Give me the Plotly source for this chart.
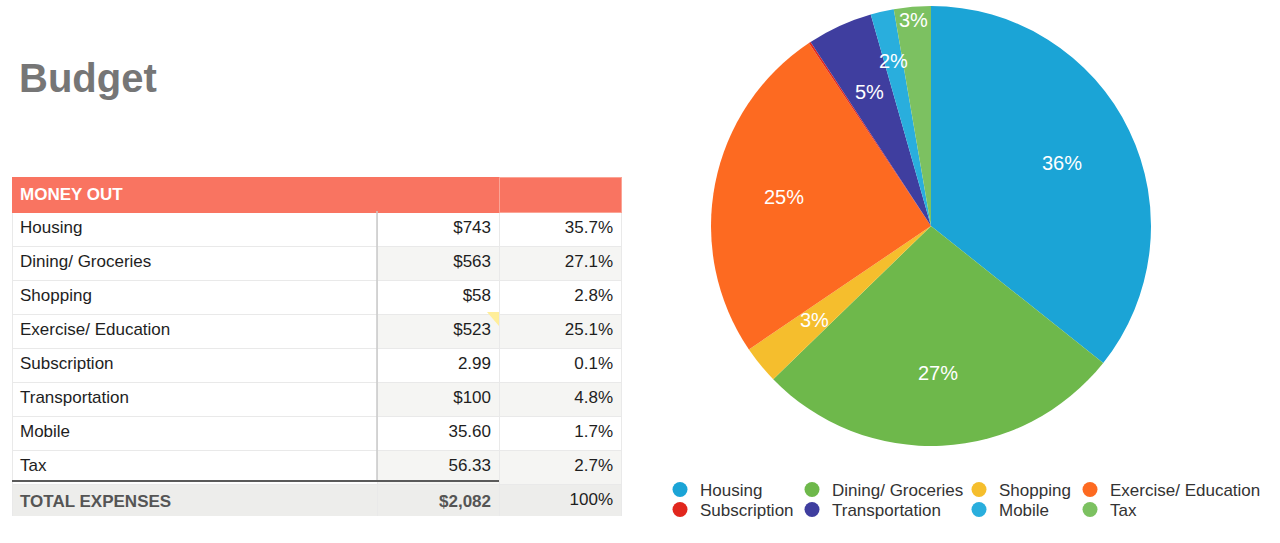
import math
import plotly.graph_objects as go

# ---- data ----
categories = ["Housing", "Dining/ Groceries", "Shopping", "Exercise/ Education",
              "Subscription", "Transportation", "Mobile", "Tax"]
amounts = [743, 563, 58, 523, 2.99, 100, 35.60, 56.33]
amount_labels = ["$743", "$563", "$58", "$523", "2.99", "$100", "35.60", "56.33"]
percent_labels = ["35.7%", "27.1%", "2.8%", "25.1%", "0.1%", "4.8%", "1.7%", "2.7%"]
total_label = ["TOTAL EXPENSES", "$2,082", "100%"]
colors = ["#1BA4D6", "#6EB84B", "#F5BE2D", "#FD6A21",
          "#E1271D", "#3F3E9F", "#29AEDD", "#7CC161"]

# style: radial position of each slice label (fraction of radius)
label_radius = [0.66, 0.67, 0.68, 0.68, 0.67, 0.67, 0.77, 0.94]

FONT = "Liberation Sans"
W, H = 1280, 543

fig = go.Figure()

# ---- table ----
n = len(categories)
col1 = categories + ["<b>" + total_label[0] + "</b>"]
col2 = amount_labels + ["<b>" + total_label[1] + "</b>"]
col3 = percent_labels + [total_label[2]]
alt = ["#FFFFFF" if i % 2 == 0 else "#F5F5F3" for i in range(n)]
total_fill = "#EDEDEB"
fill1 = ["#FFFFFF"] * n + [total_fill]
fill2 = alt + [total_fill]
fill3 = alt + [total_fill]
font_c1 = ["#1E1E1E"] * n + ["#555555"]
font_c2 = ["#1E1E1E"] * n + ["#555555"]
font_c3 = ["#1E1E1E"] * n + ["#1E1E1E"]

fig.add_trace(go.Table(
    domain=dict(x=[12 / W, 621 / W], y=[1 - 516 / H, 1 - 177 / H]),
    columnwidth=[365, 122, 122],
    header=dict(
        values=["<b>MONEY OUT</b>", "", ""],
        fill_color="#F97461",
        line=dict(color=["#F97461", "#F97461", "#FBA495"], width=1),
        font=dict(family=FONT, size=17, color="white"),
        align="left",
        height=33,
    ),
    cells=dict(
        values=[col1, col2, col3],
        fill_color=[fill1, fill2, fill3],
        line=dict(color="#E9E9E9", width=1),
        font=dict(family=FONT, size=17, color=[font_c1, font_c2, font_c3]),
        align=["left", "right", "right"],
        height=34,
    ),
))

# ---- pie ----
pie_dom_x = [711 / W, 1151 / W]
pie_dom_y = [1 - 446 / H, 1 - 6 / H]
fig.add_trace(go.Pie(
    labels=categories,
    values=amounts,
    textinfo="none",
    marker=dict(colors=colors, line=dict(width=0)),
    sort=False,
    direction="clockwise",
    rotation=0,
    showlegend=False,
    domain=dict(x=pie_dom_x, y=pie_dom_y),
    hoverinfo="label+value+percent",
))

# slice labels: placed at each slice's mid-angle, on an axis system over the pie
total = sum(amounts)
annotations = []
cum = 0.0
for v, fr in zip(amounts, label_radius):
    share = v / total
    mid = (cum + v / 2) / total * 2 * math.pi
    cum += v
    if share < 0.01:
        continue
    annotations.append(dict(
        text=f"{round(share * 100)}%", x=fr * math.sin(mid), y=fr * math.cos(mid),
        xref="x", yref="y", showarrow=False, xanchor="center", yanchor="middle",
        font=dict(family=FONT, size=20, color="white"),
    ))

annotations.append(dict(
    text="<b>Budget</b>", x=17 / W, y=1 - 78 / H, xref="paper", yref="paper",
    xanchor="left", yanchor="middle", showarrow=False,
    font=dict(family=FONT, size=40, color="#767676"),
))

# ---- legend (circle markers, 4 columns x 2 rows) ----
legend_x_px = [660, 792, 959, 1070]
legend_y_px = [472, 492]
layout_legends = {}
for i, (cat, col) in enumerate(zip(categories, colors)):
    key = "legend" if i == 0 else f"legend{i + 1}"
    fig.add_trace(go.Scatter(
        x=[None], y=[None], mode="markers", name=cat,
        marker=dict(color=col, size=15, symbol="circle"),
        legend=key, showlegend=True, hoverinfo="skip",
    ))
    layout_legends[key] = dict(
        orientation="v", xanchor="left", yanchor="top",
        x=legend_x_px[i % 4] / W, y=1 - legend_y_px[i // 4] / H,
        font=dict(family=FONT, size=17, color="#333333"),
        bgcolor="rgba(0,0,0,0)", itemsizing="trace",
    )

fig.update_layout(
    width=W, height=H,
    margin=dict(l=0, r=0, t=0, b=0),
    paper_bgcolor="white", plot_bgcolor="rgba(0,0,0,0)",
    xaxis=dict(visible=False, domain=pie_dom_x, range=[-1, 1], fixedrange=True),
    yaxis=dict(visible=False, domain=pie_dom_y, range=[-1, 1], fixedrange=True),
    annotations=annotations,
    shapes=[
        dict(type="line", xref="paper", yref="paper",
             x0=377 / W, x1=377 / W, y0=1 - 481 / H, y1=1 - 211 / H,
             line=dict(color="#C9C9C9", width=1.5)),
        dict(type="line", xref="paper", yref="paper",
             x0=12 / W, x1=499 / W, y0=1 - 481 / H, y1=1 - 481 / H,
             line=dict(color="#5A5A5A", width=2)),
        # comment marker in the "$523" cell
        dict(type="path", xref="paper", yref="paper", layer="above",
             path=f"M {487 / W} {1 - 312 / H} L {499 / W} {1 - 312 / H} "
                  f"L {499 / W} {1 - 326 / H} Z",
             fillcolor="#FFEE99", line=dict(width=0)),
    ],
    **layout_legends,
)

fig.write_html("out.html", post_script="document.body.style.margin='0';",
               config={"displayModeBar": False})
